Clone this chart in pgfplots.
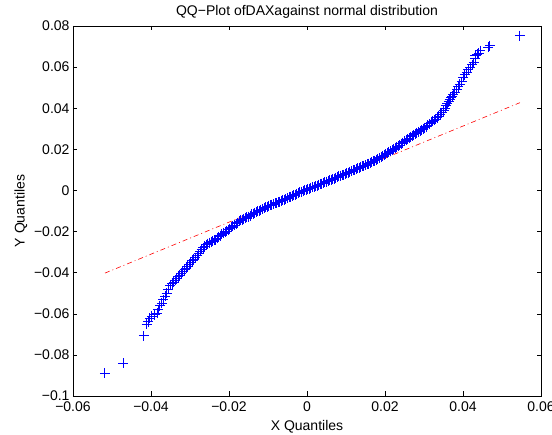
\documentclass[border=0pt]{standalone}
\usepackage{pgfplots}
\pgfplotsset{compat=1.18}
\usepackage{fontspec}
\setmainfont{Liberation Sans}
\begin{document}
\begin{tikzpicture}
\begin{axis}[
  name=ax,
  scale only axis,
  width=468pt, height=370pt,
  xmin=-0.06, xmax=0.06, ymin=-0.1, ymax=0.08,
  scaled x ticks=false, scaled y ticks=false,
  xtick={-0.06,-0.04,-0.02,0,0.02,0.04,0.06},
  xticklabels={−0.06,−0.04,−0.02,0,0.02,0.04,0.06},
  ytick={-0.1,-0.08,-0.06,-0.04,-0.02,0,0.02,0.04,0.06,0.08},
  yticklabels={−0.1,−0.08,−0.06,−0.04,−0.02,0,0.02,0.04,0.06,0.08},
  tick align=inside,
  major tick length=4.5pt,
  tick style={black, line width=0.5pt},
  axis line style={black, line width=0.6pt},
  ticklabel style={font=\fontsize{14}{16}\selectfont},
  xticklabel style={yshift=-2pt},
  label style={font=\fontsize{14}{16}\selectfont},
  xlabel style={yshift=-2pt},
  title style={font=\fontsize{14}{16}\selectfont, yshift=-1.5pt},
  title={QQ−Plot ofDAXagainst normal distribution},
  xlabel={X Quantiles},
  ylabel={Y Quantiles},
  clip=false,
]
\addplot[only marks, mark=+, color=blue, draw=blue, mark size=5pt, mark options={draw=blue, line width=1pt}] coordinates {
(-0.0518,-0.0889) (-0.0471,-0.0840) (-0.0418,-0.0707) (-0.0411,-0.0650)
(-0.0407,-0.0640) (-0.0403,-0.0621) (-0.0398,-0.0613) (-0.0390,-0.0605)
(-0.0384,-0.0597) (-0.0381,-0.0580) (-0.0377,-0.0560) (-0.0372,-0.0548)
(-0.0368,-0.0532) (-0.0364,-0.0515) (-0.0360,-0.0500) (-0.0356,-0.0480)
(-0.0351,-0.0462) (-0.0346,-0.0455) (-0.0342,-0.0446) (-0.0338,-0.0438)
(-0.0334,-0.0430) (-0.0330,-0.0421) (-0.0326,-0.0412) (-0.0322,-0.0402)
(-0.0318,-0.0394) (-0.0314,-0.0386) (-0.0310,-0.0378) (-0.0306,-0.0369)
(-0.0302,-0.0362) (-0.0298,-0.0352) (-0.0294,-0.0343) (-0.0290,-0.0335)
(-0.0286,-0.0327) (-0.0282,-0.0318) (-0.0278,-0.0308) (-0.0274,-0.0297)
(-0.0270,-0.0287) (-0.0266,-0.0278) (-0.0262,-0.0272) (-0.0258,-0.0265)
(-0.0254,-0.0259) (-0.0250,-0.0254) (-0.0246,-0.0250) (-0.0242,-0.0246)
(-0.0238,-0.0242) (-0.0234,-0.0239) (-0.0230,-0.0233) (-0.0226,-0.0226)
(-0.0222,-0.0220) (-0.0218,-0.0214) (-0.0214,-0.0208) (-0.0210,-0.0203)
(-0.0206,-0.0198) (-0.0202,-0.0192) (-0.0198,-0.0186) (-0.0194,-0.0180)
(-0.0190,-0.0175) (-0.0186,-0.0169) (-0.0182,-0.0163) (-0.0178,-0.0157)
(-0.0174,-0.0151) (-0.0170,-0.0146) (-0.0166,-0.0142) (-0.0162,-0.0138)
(-0.0158,-0.0135) (-0.0154,-0.0131) (-0.0150,-0.0127) (-0.0146,-0.0122)
(-0.0142,-0.0117) (-0.0138,-0.0113) (-0.0134,-0.0109) (-0.0130,-0.0106)
(-0.0126,-0.0102) (-0.0122,-0.0099) (-0.0118,-0.0095) (-0.0114,-0.0091)
(-0.0110,-0.0087) (-0.0106,-0.0083) (-0.0102,-0.0079) (-0.0098,-0.0075)
(-0.0094,-0.0072) (-0.0090,-0.0069) (-0.0086,-0.0066) (-0.0082,-0.0063)
(-0.0078,-0.0060) (-0.0074,-0.0057) (-0.0070,-0.0054) (-0.0066,-0.0051)
(-0.0062,-0.0048) (-0.0058,-0.0045) (-0.0054,-0.0042) (-0.0050,-0.0038)
(-0.0046,-0.0034) (-0.0042,-0.0030) (-0.0038,-0.0027) (-0.0034,-0.0024)
(-0.0030,-0.0021) (-0.0026,-0.0017) (-0.0022,-0.0013) (-0.0018,-0.0009)
(-0.0014,-0.0006) (-0.0010,-0.0003) (-0.0006,0.0000) (-0.0002,0.0003)
(0.0002,0.0006) (0.0006,0.0009) (0.0010,0.0012) (0.0014,0.0015)
(0.0018,0.0018) (0.0022,0.0021) (0.0026,0.0024) (0.0030,0.0027)
(0.0034,0.0030) (0.0038,0.0033) (0.0042,0.0036) (0.0046,0.0039)
(0.0050,0.0043) (0.0054,0.0046) (0.0058,0.0049) (0.0062,0.0052)
(0.0066,0.0055) (0.0070,0.0058) (0.0074,0.0061) (0.0078,0.0065)
(0.0082,0.0068) (0.0086,0.0071) (0.0090,0.0074) (0.0094,0.0077)
(0.0098,0.0080) (0.0102,0.0084) (0.0106,0.0087) (0.0110,0.0090)
(0.0114,0.0093) (0.0118,0.0097) (0.0122,0.0100) (0.0126,0.0103)
(0.0130,0.0107) (0.0134,0.0110) (0.0138,0.0113) (0.0142,0.0117)
(0.0146,0.0120) (0.0150,0.0123) (0.0154,0.0127) (0.0158,0.0130)
(0.0162,0.0134) (0.0166,0.0137) (0.0170,0.0141) (0.0174,0.0145)
(0.0178,0.0149) (0.0182,0.0153) (0.0186,0.0158) (0.0190,0.0162)
(0.0194,0.0167) (0.0198,0.0171) (0.0202,0.0176) (0.0206,0.0181)
(0.0210,0.0186) (0.0214,0.0191) (0.0218,0.0196) (0.0222,0.0201)
(0.0226,0.0206) (0.0230,0.0211) (0.0234,0.0216) (0.0238,0.0221)
(0.0242,0.0227) (0.0246,0.0233) (0.0250,0.0239) (0.0254,0.0245)
(0.0258,0.0250) (0.0262,0.0255) (0.0266,0.0260) (0.0270,0.0265)
(0.0274,0.0270) (0.0278,0.0275) (0.0282,0.0280) (0.0286,0.0285)
(0.0290,0.0290) (0.0294,0.0295) (0.0298,0.0300) (0.0302,0.0305)
(0.0306,0.0311) (0.0310,0.0317) (0.0314,0.0324) (0.0318,0.0331)
(0.0322,0.0336) (0.0326,0.0341) (0.0330,0.0346) (0.0334,0.0354)
(0.0338,0.0362) (0.0342,0.0370) (0.0346,0.0379) (0.0350,0.0388)
(0.0354,0.0400) (0.0357,0.0412) (0.0360,0.0422) (0.0363,0.0432)
(0.0366,0.0442) (0.0369,0.0450) (0.0372,0.0458) (0.0375,0.0468)
(0.0379,0.0478) (0.0384,0.0492) (0.0388,0.0505) (0.0392,0.0516)
(0.0397,0.0528) (0.0401,0.0550) (0.0405,0.0562) (0.0409,0.0575)
(0.0414,0.0588) (0.0418,0.0600) (0.0424,0.0612) (0.0428,0.0622)
(0.0431,0.0640) (0.0432,0.0655) (0.0436,0.0662) (0.0440,0.0668)
(0.0444,0.0680) (0.0465,0.0696) (0.0469,0.0704) (0.0546,0.0753)
};
\addplot[color=green!50!black, line width=0.6pt] coordinates {(-0.0105,-0.0080) (0.0085,0.0068)};
\addplot[color=red, line width=0.6pt, dash pattern=on 5pt off 3pt on 1pt off 3pt] coordinates {(-0.0518,-0.0402) (0.0546,0.0427)};
\end{axis}
\pgfresetboundingbox
\path (ax.south west) ++(-73pt,-39pt) rectangle ++(552pt,435pt);
\end{tikzpicture}
\end{document}
